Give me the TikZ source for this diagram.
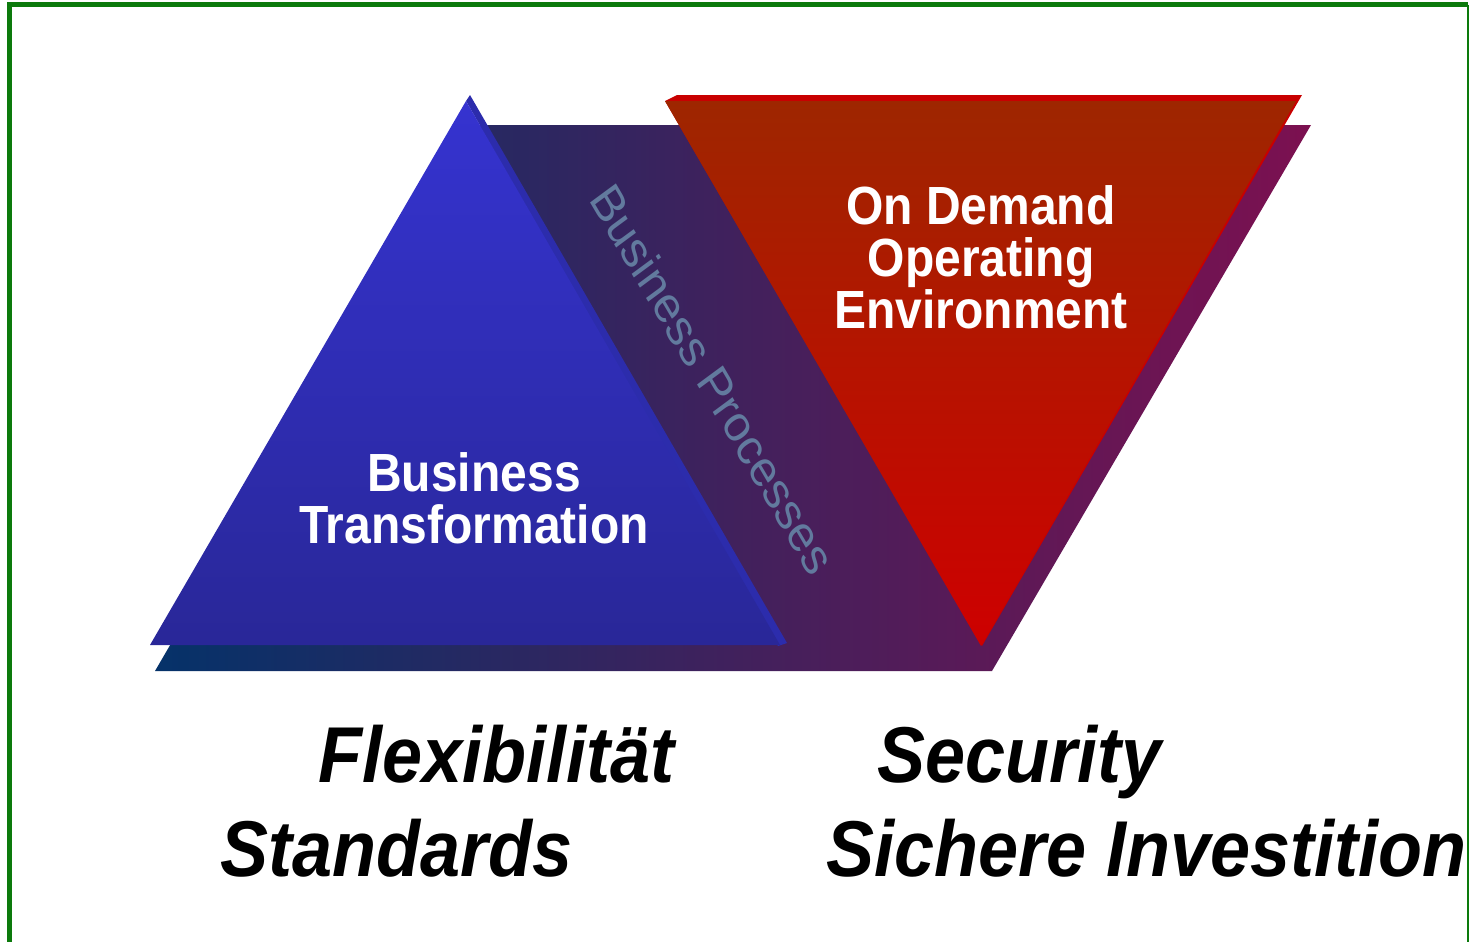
\documentclass[tikz,border=0pt]{standalone}
\usepackage{fontspec}
\setmainfont{Liberation Sans}
\usepackage{tikz}

\definecolor{framegreen}{RGB}{12,122,12}
\definecolor{bandleft}{RGB}{5,50,105}
\definecolor{bandmid}{RGB}{88,40,98}
\definecolor{bandright}{RGB}{124,16,80}
\definecolor{bluetop}{RGB}{53,51,208}
\definecolor{bluebot}{RGB}{41,39,152}
\definecolor{blueside}{RGB}{44,44,172}
\definecolor{redtop}{RGB}{158,38,0}
\definecolor{redbot}{RGB}{206,0,0}
\definecolor{redrim}{RGB}{200,0,0}
\definecolor{proctext}{RGB}{98,122,158}

\tikzset{
  facetext/.style={text=white, align=center, yscale=1.12,
    font=\fontsize{48}{46.5}\selectfont\bfseries},
  keyword/.style={anchor=base west, yscale=1.1, inner sep=0pt,
    font=\fontsize{72}{80}\selectfont\bfseries\itshape}
}

\begin{document}
\begin{tikzpicture}[x=1pt, y=-1pt]
        \useasboundingbox (0,0) rectangle (1470,942);
        %
        \draw [framegreen, line width=5] (9,942) -- (9,5) -- (1468,5);
        \draw [framegreen, line width=2] (1468,5) -- (1468,942);
        %
        \shade [left color=bandleft, middle color=bandmid, right color=bandright]
          (155,671) -- (473,125) -- (1311,125) -- (992,671) -- cycle;
        %
        \fill [blueside] (470,95) -- (787,643) -- (778,646) -- (466,101) -- cycle;
        \shade [top color=bluetop, bottom color=bluebot]
          (466,101) -- (150,645) -- (780,645) -- cycle;
        %
        \fill [redrim] (665,101) -- (677,95) -- (1302,95) -- (982,646) -- cycle;
        \shade [top color=redtop, bottom color=redbot]
          (665,101) -- (1296,101) -- (981,646) -- cycle;
        %
        \node [facetext] (ondemand) at (981,257) {On Demand\\Operating\\Environment};
        \node [facetext] (transform) at (474,498) {Business\\Transformation};
        \node [text=proctext, yscale=1.12, rotate=-56.6,
          font=\fontsize{45}{50}\selectfont] (process) at (713,379) {Business Processes};
        %
        \node [keyword] (flex) at (318,782) {Flexibilität};
        \node [keyword] (std) at (220,876) {Standards};
        \node [keyword] (sec) at (877,782) {Security};
        \node [keyword] (invest) at (826,876) {Sichere Investition};
      \end{tikzpicture}
\end{document}
